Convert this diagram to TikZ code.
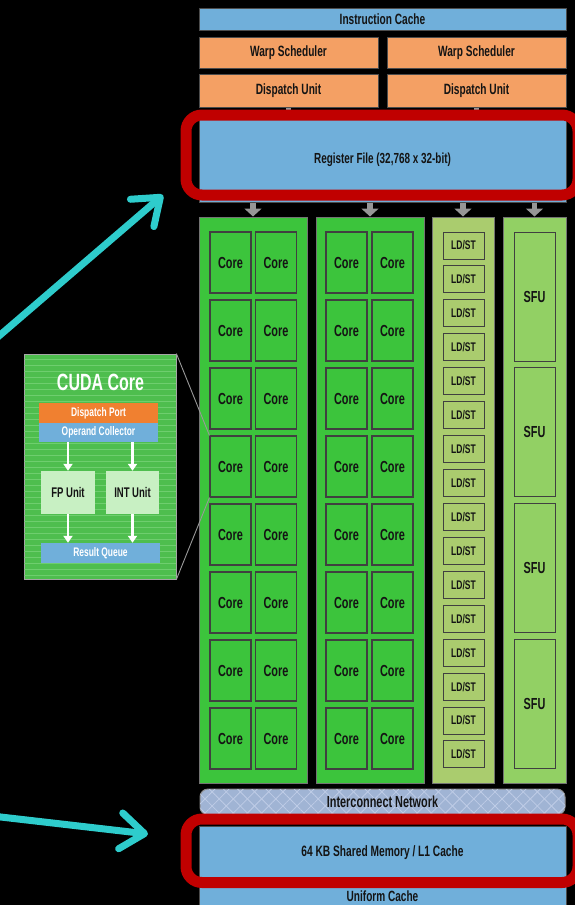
\documentclass[tikz,border=0pt]{standalone}
\usepackage{fontspec}
\setmainfont{Liberation Sans}[FakeStretch=0.68]
\usetikzlibrary{arrows.meta,patterns.meta}
\definecolor{cblue}{RGB}{112,175,218}
\definecolor{corange}{RGB}{244,160,100}
\definecolor{cgreen}{RGB}{60,196,60}
\definecolor{cldst}{RGB}{170,204,110}
\definecolor{csfu}{RGB}{146,208,100}
\definecolor{cred}{RGB}{192,0,0}
\definecolor{ccyan}{RGB}{46,204,204}
\definecolor{cnet}{RGB}{160,180,212}
\definecolor{cnetl}{RGB}{190,204,230}
\definecolor{cinset}{RGB}{78,190,78}
\definecolor{cstripe}{RGB}{110,206,110}
\definecolor{cdisp}{RGB}{240,128,48}
\definecolor{cunit}{RGB}{200,240,195}
\definecolor{ctext}{RGB}{20,20,20}
\definecolor{carrowgray}{RGB}{150,150,150}
\tikzset{
  unitbox/.style={draw=black!70, line width=1pt, inner sep=0pt, text=ctext,
    font=\bfseries\fontsize{14.9}{16}\selectfont},
  bluebox/.style={unitbox, fill=cblue},
  orbox/.style={unitbox, fill=corange},
  colbox/.style={draw=black!55, line width=1pt, inner sep=0pt, minimum height=566pt},
  corebox/.style={draw=black!75, line width=1.1pt, fill=cgreen, inner sep=0pt,
    minimum width=41pt, minimum height=61pt, text=ctext, font=\bfseries\fontsize{16}{17}\selectfont},
  ldstbox/.style={draw=black!75, line width=1pt, fill=cldst, inner sep=0pt,
    minimum width=41pt, minimum height=27pt, text=ctext, font=\bfseries\fontsize{12.5}{13}\selectfont},
  sfubox/.style={draw=black!75, line width=1pt, fill=csfu, inner sep=0pt,
    minimum width=41pt, minimum height=129pt, text=ctext, font=\bfseries\fontsize{16}{17}\selectfont},
  grayarrow/.style={draw=carrowgray, line width=5.5pt, -{Triangle[width=17pt,length=8pt]}},
  graytab/.style={draw=carrowgray, line width=5pt},
  redframe/.style={draw=cred, line width=11pt, rounded corners=16pt, inner sep=0pt},
  cyanarrow/.style={draw=ccyan, line width=7pt, line cap=round,
    -{Straight Barb[length=24pt,width=36pt,round]}},
  insetbox/.style={draw=gray!70, line width=0.8pt, fill=cinset, inner sep=0pt,
    postaction={pattern={Lines[angle=0,distance=6pt,line width=0.6pt]}, pattern color=cstripe}},
  smallbar/.style={inner sep=0pt, text=white, font=\bfseries\fontsize{12.4}{13}\selectfont,
    minimum width=119pt, minimum height=19.5pt},
  fpbox/.style={fill=cunit, inner sep=0pt, text=ctext, font=\bfseries\fontsize{14}{15}\selectfont,
    minimum height=43pt},
  whitearrow/.style={draw=white, line width=2.6pt, -{Triangle[width=9pt,length=7pt]}},
  zoomline/.style={draw=gray!80, line width=0.9pt}
}
\begin{document}
\begin{tikzpicture}[x=1pt,y=-1pt]
\useasboundingbox (0,0) rectangle (575,905);
\fill[black] (0,0) rectangle (575,905);

% top units
\node[bluebox, minimum width=367pt, minimum height=22pt] (icache) at (382.5,19) {Instruction Cache};
\node[orbox, minimum width=179pt, minimum height=31pt] (w1) at (288.5,52.5) {Warp Scheduler};
\node[orbox, minimum width=179pt, minimum height=31pt] (w2) at (476.5,52.5) {Warp Scheduler};
\node[orbox, minimum width=179pt, minimum height=33pt] (d1) at (288.5,90.5) {Dispatch Unit};
\node[orbox, minimum width=179pt, minimum height=33pt] (d2) at (476.5,90.5) {Dispatch Unit};
\node[bluebox, minimum width=367pt, minimum height=85pt, font=\bfseries\fontsize{14.6}{15}\selectfont] (reg) at (382.5,159.5) {Register File (32,768 x 32-bit)};
\draw[graytab] (d1.south) -- (reg.north -| d1.south);
\draw[graytab] (d2.south) -- (reg.north -| d2.south);

% columns
\node[colbox, fill=cgreen, minimum width=108pt] (col1) at (253,500) {};
\node[colbox, fill=cgreen, minimum width=108pt] (col2) at (370,500) {};
\node[colbox, fill=cldst, minimum width=62pt] (col3) at (463,500) {};
\node[colbox, fill=csfu, minimum width=63pt] (col4) at (534.5,500) {};
\foreach \c in {col1,col2,col3,col4}{
  \draw[grayarrow] (reg.south -| \c.north) -- (\c.north);
}

% cores
\foreach \r in {1,...,8}{
  \node[corebox] (c1L\r) at (230.5,{262.5+68*(\r-1)}) {Core};
  \node[corebox] (c1R\r) at (276,{262.5+68*(\r-1)}) {Core};
  \node[corebox] (c2L\r) at (346.5,{262.5+68*(\r-1)}) {Core};
  \node[corebox] (c2R\r) at (392.5,{262.5+68*(\r-1)}) {Core};
}
\foreach \r in {0,...,15}{
  \node[ldstbox] (ls\r) at (463.5,{245.5+33.93*\r}) {LD/ST};
}
\foreach \r in {0,...,3}{
  \node[sfubox] (sfu\r) at (534.5,{296.5+135.67*\r}) {SFU};
}

% bottom units
\node[unitbox, fill=cnet, draw=black!45, rounded corners=8pt, minimum width=365pt, minimum height=26pt,
  postaction={pattern={Lines[angle=45,distance=10pt,line width=0.8pt]}, pattern color=cnetl},
  postaction={pattern={Lines[angle=-45,distance=10pt,line width=0.8pt]}, pattern color=cnetl}]
  (net) at (382.5,802) {};
\node[text=ctext, font=\bfseries\fontsize{16}{17}\selectfont, inner sep=0pt] (netlabel) at (382.5,802) {Interconnect Network};
\node[bluebox, minimum width=367pt, minimum height=32pt, font=\bfseries\fontsize{14.8}{16}\selectfont] (uni) at (382.5,896.5) {Uniform Cache};
\node[bluebox, minimum width=367pt, minimum height=54pt, font=\bfseries\fontsize{15}{16}\selectfont] (smem) at (382.5,853) {64 KB Shared Memory / L1 Cache};

% red highlight frames
\node[redframe, minimum width=392pt, minimum height=80pt] (regframe) at (382,155) {};
\node[redframe, minimum width=392pt, minimum height=63.5pt] (memframe) at (382,850.75) {};

% cyan arrows
\coordinate (u0) at (-8,342);
\coordinate (u1) at (163,195);
\draw[cyanarrow] (u0) -- (u1);
\coordinate (l0) at (-8,816);
\coordinate (l1) at (148,834);
\draw[cyanarrow] (l0) -- (l1);

% CUDA core inset
\node[insetbox, minimum width=152pt, minimum height=225pt] (inset) at (100,466.5) {};
\node[text=white, font=\bfseries\fontsize{23.5}{25}\selectfont, inner sep=0pt] (insettitle) at (100.5,382) {CUDA Core};
\node[smallbar, fill=cdisp] (dport) at (98.5,413) {Dispatch Port};
\node[smallbar, fill=cblue] (opcol) at (98.5,432.5) {Operand Collector};
\node[fpbox, minimum width=54pt] (fp) at (68,492.5) {FP Unit};
\node[fpbox, minimum width=53pt] (int) at (132.5,492.5) {INT Unit};
\node[smallbar, fill=cblue, minimum height=20pt] (rq) at (100.5,553) {Result Queue};
\draw[whitearrow] (opcol.south -| fp.north) -- (fp.north);
\draw[whitearrow] (opcol.south -| int.north) -- (int.north);
\draw[whitearrow] (fp.south) -- (rq.north -| fp.south);
\draw[whitearrow] (int.south) -- (rq.north -| int.south);

% zoom lines
\draw[zoomline] (inset.north east) -- (c1L4.north west);
\draw[zoomline] (inset.south east) -- (c1L4.south west);
\end{tikzpicture}
\end{document}
